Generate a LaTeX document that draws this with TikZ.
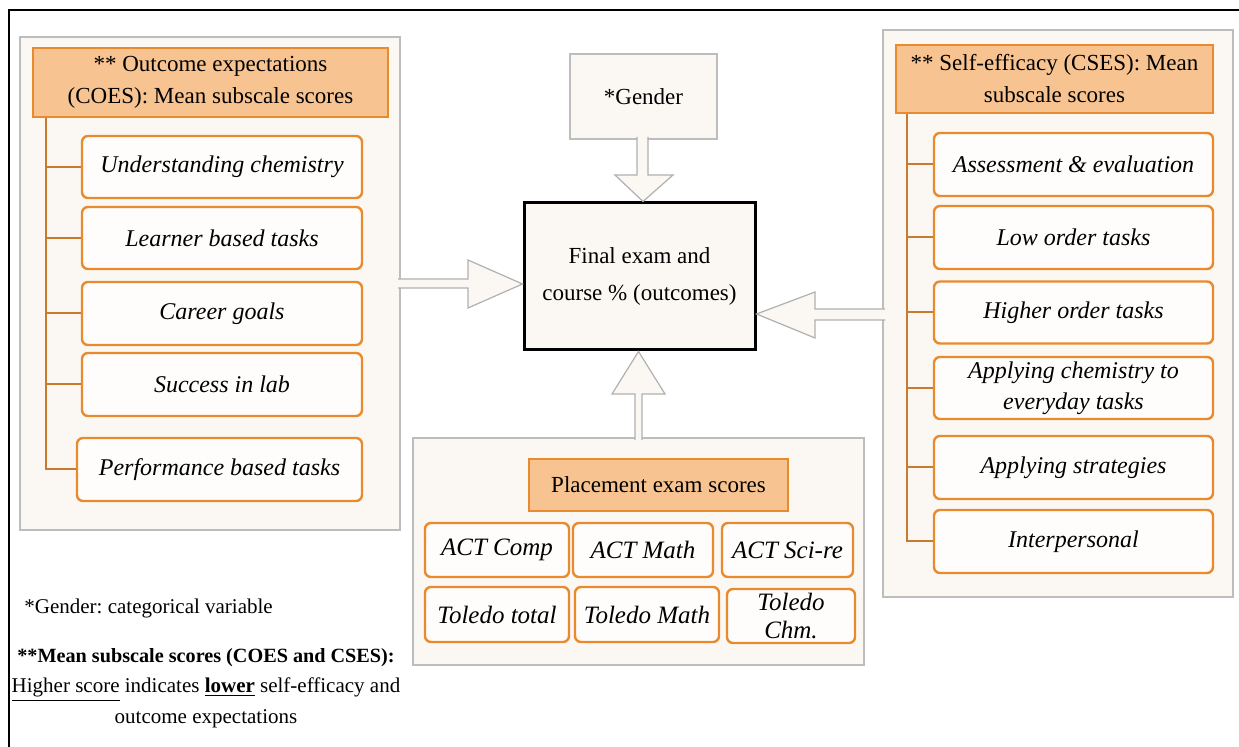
\documentclass[tikz,border=0pt]{standalone}
\usepackage{fontspec}
\setmainfont{Liberation Serif}
\usetikzlibrary{positioning}

\definecolor{orangeline}{HTML}{E98A2E}
\definecolor{headfill}{HTML}{F7C391}
\definecolor{panelfill}{HTML}{FBF8F3}
\definecolor{panelline}{HTML}{BDBDBD}
\definecolor{boxfill}{HTML}{FFFDFB}
\definecolor{treeline}{HTML}{C97A2C}
\definecolor{arrline}{HTML}{B0B0B0}

\begin{document}
\frenchspacing
\begin{tikzpicture}[x=0.5pt, y=-0.5pt,
  panel/.style={draw=panelline, fill=panelfill, line width=0.6pt, inner sep=0pt},
  headbox/.style={draw=orangeline, fill=headfill, line width=1.2pt, align=center, inner sep=0pt, font=\fontsize{11.5}{16}\selectfont},
  itembox/.style={draw=orangeline, fill=boxfill, line width=1.2pt, rounded corners=3pt, align=center, inner sep=0pt, font=\fontsize{12}{15.5}\selectfont\itshape},
  smallbox/.style={itembox, font=\fontsize{12.5}{14}\selectfont\itshape},
  branch/.style={draw=treeline, line width=1pt},
  blockarr/.style={draw=arrline, fill=panelfill, line width=0.6pt, line join=miter},
  note/.style={inner sep=0pt, font=\fontsize{10.5}{15.3}\selectfont}]
  \useasboundingbox (0,0) rectangle (1239,747);
  \draw[line width=1pt] (9,747) -- (9,10) -- (1239,10);

  % Panels
  \node[panel, minimum width=190pt, minimum height=246.5pt] (coespanel) at (210,283.5) {};
  \node[panel, minimum width=175pt, minimum height=283.5pt] (csespanel) at (1058,313.5) {};
  \node[panel, minimum width=225.5pt, minimum height=113.5pt] (placepanel) at (638.5,551.5) {};

  % Nodes
  \node[panel, minimum width=73.5pt, minimum height=42.5pt, font=\fontsize{11.5}{14}\selectfont] (gender) at (643.5,96.5) {*Gender};
  \node[draw=black, fill=panelfill, line width=1.5pt, minimum width=115.5pt, minimum height=73.5pt, align=center, font=\fontsize{11.5}{18.5}\selectfont] (final) at (639.5,276.5) {Final exam and\\course \% (outcomes)};

  \node[headbox, minimum width=177.5pt, minimum height=34.5pt] (coeshead) at (210.5,82.5) {** Outcome expectations\\(COES): Mean subscale scores};
  \node[itembox, minimum width=140pt, minimum height=31pt] (lo1) at (222,167) {Understanding chemistry};
  \node[itembox, minimum width=140pt, minimum height=31pt] (lo2) at (222,238) {Learner based tasks};
  \node[itembox, minimum width=140pt, minimum height=31.5pt] (lo3) at (222,313.5) {Career goals};
  \node[itembox, minimum width=140pt, minimum height=31.5pt] (lo4) at (222,384.5) {Success in lab};
  \node[itembox, minimum width=142.5pt, minimum height=31.5pt] (lo5) at (219.5,469.5) {Performance based tasks};

  \node[headbox, minimum width=158.5pt, minimum height=34pt] (cseshead) at (1054.5,79) {** Self-efficacy (CSES): Mean\\subscale scores};
  \node[itembox, minimum width=139.5pt, minimum height=31.5pt] (ro1) at (1073.5,164.5) {Assessment \& evaluation};
  \node[itembox, minimum width=139.5pt, minimum height=31.5pt] (ro2) at (1073.5,237.5) {Low order tasks};
  \node[itembox, minimum width=139.5pt, minimum height=31pt] (ro3) at (1073.5,312.5) {Higher order tasks};
  \node[itembox, minimum width=139.5pt, minimum height=31pt] (ro4) at (1073.5,388) {Applying chemistry to\\everyday tasks};
  \node[itembox, minimum width=139.5pt, minimum height=31.5pt] (ro5) at (1073.5,467.5) {Applying strategies};
  \node[itembox, minimum width=139.5pt, minimum height=31.5pt] (ro6) at (1073.5,541.5) {Interpersonal};

  \node[headbox, minimum width=129.5pt, minimum height=26pt] (placehead) at (658.5,485) {Placement exam scores};
  \node[smallbox, minimum width=72pt, minimum height=27pt] (actcomp) at (497,550) {ACT Comp};
  \node[smallbox, minimum width=70pt, minimum height=27pt] (actmath) at (643,550) {ACT Math};
  \node[smallbox, minimum width=65.5pt, minimum height=27pt] (actsci) at (787.5,550) {ACT Sci-re};
  \node[smallbox, minimum width=72pt, minimum height=27.5pt] (toltotal) at (497,614.5) {Toledo total};
  \node[smallbox, minimum width=72pt, minimum height=27.5pt] (tolmath) at (647,614.5) {Toledo Math};
  \node[smallbox, minimum width=64pt, minimum height=27pt] (tolchm) at (791,616) {Toledo\\Chm.};

  \node[note, anchor=west] (gendernote) at (24,608) {*Gender: categorical variable};
  \node[note, align=center] (meannote) at (206,688) {{\fontsize{10.1}{15.3}\selectfont\bfseries **Mean subscale scores (COES and CSES):}\\\underline{Higher score} indicates \underline{\textbf{lower}} self-efficacy and\\outcome expectations};

  % Tree lines
  \coordinate (ltree) at ([xshift=7pt]coeshead.south west);
  \draw[branch] (ltree) |- (lo5.west);
  \foreach \n in {lo1,lo2,lo3,lo4}
    \draw[branch] (ltree |- \n.west) -- (\n.west);
  \coordinate (rtree) at ([xshift=6pt]cseshead.south west);
  \draw[branch] (rtree) |- (ro6.west);
  \foreach \n in {ro1,ro2,ro3,ro4,ro5}
    \draw[branch] (rtree |- \n.west) -- (\n.west);

  % Arrows
  \filldraw[blockarr] (398,279) -- (468,279) -- (468,260) -- (final.west |- 0,284) -- (468,308) -- (468,288) -- (398,288);
  \filldraw[blockarr] (885,309) -- (815,309) -- (815,292) -- (final.east |- 0,314) -- (815,338) -- (815,320) -- (885,320);
  \filldraw[blockarr] (637,137) -- (637,175) -- (615,175) -- (643,0 |- final.north) -- (673,175) -- (648,175) -- (648,137);
  \filldraw[blockarr] (635,440) -- (635,394) -- (612,394) -- (638.5,0 |- final.south) -- (665,394) -- (642,394) -- (642,440);
\end{tikzpicture}
\end{document}
